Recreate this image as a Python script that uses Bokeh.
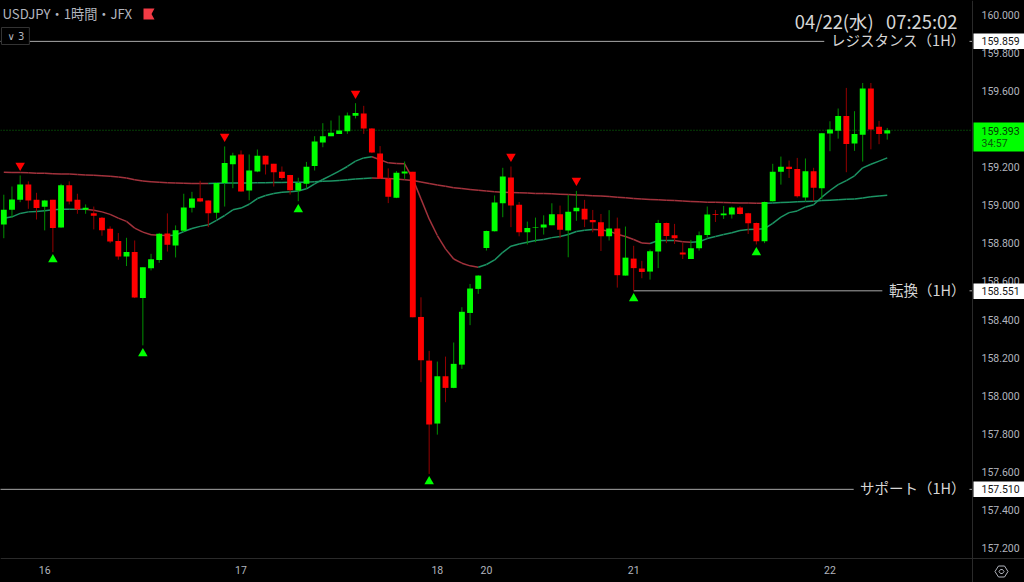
from bokeh.plotting import figure
from bokeh.models import (BoxAnnotation, ColumnDataSource, FixedTicker, Label, LinearAxis, NumeralTickFormatter,
                          PolyAnnotation, Range1d)
from bokeh.embed import file_html
from bokeh.resources import INLINE

open_ = [158.899,158.976,159.028,159.109,159.028,158.992,159.028,158.883,159.104,159.028,158.976,158.958,158.934,158.876,158.812,158.731,158.754,158.513,158.670,158.712,158.852,158.789,158.866,158.986,159.037,159.025,158.960,159.116,159.215,159.266,159.077,159.177,159.259,159.217,159.175,159.159,159.077,159.112,159.205,159.329,159.362,159.374,159.388,159.469,159.481,159.402,159.271,159.140,159.039,159.166,159.175,158.414,158.185,157.855,158.103,158.042,158.164,158.435,158.561,158.776,158.864,159.010,159.145,159.003,158.858,158.883,158.883,158.895,158.953,158.867,158.968,158.982,158.923,158.911,158.837,158.878,158.631,158.720,158.668,158.652,158.757,158.907,158.843,158.752,158.718,158.774,158.844,158.953,158.947,158.951,158.988,158.958,158.907,158.811,159.021,159.176,159.201,159.190,159.040,159.178,159.089,159.376,159.391,159.468,159.323,159.370,159.612,159.411,159.376]
high = [159.055,159.098,159.156,159.125,159.065,159.028,159.028,159.112,159.125,159.060,159.004,158.993,158.938,158.889,158.854,158.829,158.815,158.674,158.745,158.855,158.957,158.894,159.060,159.070,159.128,159.025,159.116,159.308,159.275,159.287,159.266,159.292,159.261,159.217,159.203,159.159,159.144,159.227,159.362,159.430,159.444,159.470,159.486,159.535,159.521,159.404,159.310,159.193,159.179,159.229,159.175,158.517,158.236,158.180,158.206,158.280,158.465,158.587,158.633,158.867,159.051,159.196,159.203,159.017,158.914,158.935,158.947,159.010,158.998,159.054,159.075,159.028,158.975,158.954,158.974,158.935,158.888,158.787,158.708,158.767,158.923,158.909,158.902,158.804,158.818,158.862,158.993,158.975,158.996,158.993,158.995,158.960,158.909,159.019,159.217,159.255,159.234,159.248,159.245,159.196,159.379,159.440,159.507,159.615,159.493,159.641,159.641,159.442,159.405]
low = [158.827,158.934,159.016,158.981,158.925,158.868,158.754,158.882,159.004,158.955,158.955,158.873,158.840,158.801,158.714,158.681,158.513,158.265,158.658,158.698,158.757,158.726,158.859,158.962,159.016,158.885,158.929,158.993,159.089,159.072,159.026,159.173,159.161,159.098,159.133,159.056,159.021,159.088,159.182,159.304,159.362,159.374,159.374,159.455,159.374,159.273,159.138,159.011,159.037,159.138,158.412,158.072,157.591,157.797,157.967,158.040,158.142,158.371,158.535,158.762,158.862,158.937,158.885,158.837,158.794,158.806,158.846,158.895,158.827,158.727,158.918,158.885,158.858,158.760,158.815,158.568,158.631,158.552,158.617,158.610,158.670,158.801,158.797,158.718,158.718,158.762,158.829,158.912,158.928,158.930,158.951,158.849,158.794,158.801,159.019,159.108,159.143,159.040,159.021,159.021,159.033,159.283,159.349,159.173,159.285,159.229,159.293,159.320,159.344]
close = [158.976,159.030,159.109,159.025,158.985,159.025,158.880,159.104,159.020,158.978,158.986,158.945,158.869,158.810,158.731,158.754,158.516,158.674,158.716,158.850,158.792,158.868,158.988,159.035,159.020,158.958,159.116,159.221,159.261,159.072,159.182,159.259,159.214,159.173,159.142,159.079,159.116,159.201,159.334,159.362,159.380,159.392,159.470,159.484,159.402,159.276,159.140,159.044,159.170,159.177,158.412,158.187,157.850,158.103,158.042,158.168,158.441,158.563,158.631,158.865,159.014,159.150,158.998,158.858,158.881,158.886,158.899,158.953,158.871,158.965,158.986,158.925,158.911,158.837,158.878,158.633,158.725,158.670,158.650,158.759,158.907,158.839,158.827,158.741,158.774,158.842,158.951,158.949,158.956,158.988,158.954,158.905,158.811,159.017,159.175,159.201,159.190,159.047,159.178,159.092,159.377,159.397,159.468,159.321,159.374,159.612,159.397,159.374,159.393]
fast_ma = [158.931,158.939,158.957,158.965,158.967,158.971,158.976,158.979,158.979,158.979,158.979,158.974,158.965,158.952,158.932,158.915,158.880,158.859,158.845,158.843,158.841,158.843,158.862,158.878,158.889,158.897,158.920,158.946,158.976,158.985,159.005,159.035,159.051,159.061,159.068,159.070,159.074,159.086,159.112,159.135,159.156,159.179,159.203,159.231,159.248,159.254,159.238,159.222,159.219,159.217,159.138,159.033,158.928,158.841,158.771,158.718,158.696,158.682,158.675,158.689,158.713,158.753,158.785,158.797,158.806,158.815,158.820,158.830,158.836,158.846,158.862,158.869,158.872,158.871,158.864,158.848,158.836,158.820,158.802,158.799,158.815,158.815,158.815,158.808,158.806,158.808,158.825,158.836,158.846,158.856,158.867,158.872,158.874,158.877,158.905,158.937,158.961,158.970,158.991,159.002,159.042,159.077,159.108,159.129,159.154,159.196,159.215,159.231,159.248]
slow_ma = [159.173,159.172,159.171,159.170,159.168,159.167,159.165,159.164,159.163,159.161,159.159,159.157,159.155,159.152,159.148,159.143,159.133,159.127,159.123,159.120,159.118,159.116,159.115,159.114,159.114,159.114,159.115,159.116,159.117,159.117,159.117,159.118,159.118,159.119,159.119,159.120,159.120,159.121,159.123,159.125,159.127,159.129,159.133,159.137,159.140,159.142,159.141,159.140,159.137,159.134,159.130,159.122,159.114,159.106,159.099,159.092,159.087,159.082,159.078,159.074,159.071,159.068,159.066,159.065,159.064,159.062,159.061,159.060,159.058,159.056,159.054,159.052,159.050,159.048,159.045,159.042,159.039,159.035,159.032,159.030,159.028,159.026,159.024,159.022,159.020,159.018,159.016,159.015,159.014,159.013,159.012,159.011,159.010,159.010,159.012,159.014,159.016,159.018,159.019,159.021,159.024,159.026,159.028,159.031,159.033,159.038,159.044,159.048,159.052]
sell_idx = [2, 27, 43, 62, 70]
sell_px = [159.208, 159.360, 159.586, 159.255, 159.130]
buy_idx = [6, 17, 36, 52, 77, 92]
buy_px = [158.715, 158.222, 158.977, 157.551, 158.511, 158.752]
level_names = ["レジスタンス（1H）", "転換（1H）", "サポート（1H）"]
level_values = [159.859, 158.551, 157.510]
level_start = [-0.5, 77, -0.5]
level_end = [100.3, 107.4, 103.9]
date_ticks = {5: "16", 29: "17", 53: "18", 59: "20", 77: "21", 101: "22"}
price_ticks = [157.2, 157.4, 157.6, 157.8, 158.0, 158.2, 158.4, 158.6, 158.8, 159.0, 159.2, 159.4, 159.6, 159.8, 160.0]
last_price = 159.393
countdown = "34:57"
title_text = "USDJPY・1時間・JFX"
clock_text = "04/22(水)\u00a0\u00a0\u00a007:25:02"

W, H = 1024, 582
FW, FH = 972, 558
X0, SX = 3.3, 8.18
PY0, SY = 14.0, 190.7
xpx = lambda px: (px - X0) / SX          # screen pixel -> bar index (chrome only)
ypx = lambda py: 160.0 - (py - PY0) / SY  # screen pixel -> price (chrome only)

GREEN, RED = "#00ff00", "#ff0000"
DGREEN, DRED = "#009000", "#950000"
MA_G, MA_R = "#1c9464", "#a2323c"
TXT = "#b2b5be"
CJK = "Noto Sans CJK JP"

p = figure(width=W, height=H, output_backend="svg", toolbar_location=None,
           x_range=Range1d(xpx(0), xpx(W)), y_range=Range1d(ypx(H), ypx(0)),
           x_axis_location=None, y_axis_location=None,
           background_fill_color="black", border_fill_color="black", outline_line_color=None,
           min_border=0)
p.styles = {"position": "fixed", "left": "0px", "top": "0px", "background-color": "black"}
p.grid.visible = False

ya = LinearAxis(ticker=FixedTicker(ticks=price_ticks), formatter=NumeralTickFormatter(format="0.000"),
                axis_line_color="#2a2a2a", major_tick_line_color=None, minor_tick_line_color=None,
                major_tick_out=0, major_tick_in=0,
                major_label_text_color=TXT, major_label_text_font="Roboto", major_label_text_font_size="10.5px",
                major_label_standoff=9, fixed_location=xpx(FW))
p.add_layout(ya, "right")
xa = LinearAxis(ticker=FixedTicker(ticks=list(date_ticks)), major_label_overrides=date_ticks,
                axis_line_color="#2a2a2a", major_tick_line_color=None, minor_tick_line_color=None,
                major_tick_out=0, major_tick_in=0,
                major_label_text_color=TXT, major_label_text_font="Roboto", major_label_text_font_size="10.5px",
                major_label_standoff=7, fixed_location=ypx(FH))
p.add_layout(xa, "below")

idx = list(range(len(close)))
up = [c >= o for o, c in zip(open_, close)]
src = ColumnDataSource(dict(
    x=idx, high=high, low=low,
    top=[max(o, c) for o, c in zip(open_, close)],
    bottom=[min(o, c) for o, c in zip(open_, close)],
    body=[GREEN if u else RED for u in up],
    wick=[DGREEN if u else DRED for u in up]))

# price line (stops at the axis)
p.segment(xpx(0), last_price, xpx(FW), last_price, line_color="#0a7a0a", line_width=1, line_dash="1 2")
# levels
p.segment(level_start, level_values, level_end, level_values, line_color="#a8a8a8", line_width=1)
p.segment(xpx(969), level_values, xpx(FW), level_values, line_color="#a8a8a8", line_width=1)

def ma_segments(vals):
    xs0, ys0, xs1, ys1, cols = [], [], [], [], []
    cur = MA_R if vals[1] < vals[0] else MA_G
    for i in range(len(vals) - 1):
        if vals[i + 1] > vals[i]:
            cur = MA_G
        elif vals[i + 1] < vals[i]:
            cur = MA_R
        xs0.append(i); ys0.append(vals[i]); xs1.append(i + 1); ys1.append(vals[i + 1]); cols.append(cur)
    return xs0, ys0, xs1, ys1, cols

for series in (slow_ma, fast_ma):
    a, b, c, d, e = ma_segments(series)
    p.segment(a, b, c, d, line_color=e, line_width=1.5)

p.segment("x", "high", "x", "low", source=src, line_color="wick", line_width=1)
p.vbar("x", 0.72, "top", "bottom", source=src, fill_color="body", line_color=None)

p.scatter(sell_idx, sell_px, marker="inverted_triangle", size=9.5, fill_color=RED, line_color=None)
p.scatter(buy_idx, buy_px, marker="triangle", size=9.5, fill_color=GREEN, line_color=None)

def label(x, y, text, **kw):
    base = dict(x=x, y=y, x_units="screen", y_units="data", text=text, text_font=CJK,
                text_baseline="middle", text_color="#d6d6d6", text_font_size="14px")
    base.update(kw)
    p.add_layout(Label(**base))

def box(x0, x1, y0, y1, color):
    p.add_layout(BoxAnnotation(left=xpx(x0), right=xpx(x1), top=ypx(y0), bottom=ypx(y1),
                               fill_color=color, fill_alpha=1, line_color=None))

label(2, ypx(13), title_text, text_color=TXT, text_font_size="13.2px")
label(957, ypx(20), clock_text, text_align="right", text_font_size="18.4px")
for name, val, top in zip(level_names, level_values, (33, 283, 481)):
    label(965, val + 1.5 / SY, name, text_align="right", text_font_size="14.5px")
    box(973, 1024, top, top + 15.5, "white")
    label(981, val, f"{val:.3f}", text_font="Roboto", text_font_size="10.5px", text_color="#111111")
box(973, 1024, 122, 151, GREEN)
label(981, ypx(130), f"{last_price:.3f}", text_font="Roboto", text_font_size="10.5px", text_color="#063a06")
label(981, ypx(143), countdown, text_font="Roboto", text_font_size="10.5px", text_color="#0a5a0a")

# badge, flag and settings icon
label(1, ypx(35.5), "∨ 3", text_font="DejaVu Sans", text_font_size="10px", text_color=TXT,
      background_fill_color="black", border_line_color="#333333", padding=(6, 5, 3, 3))
p.add_layout(PolyAnnotation(xs=[xpx(v) for v in (143, 154, 151, 154, 143)],
                            ys=[ypx(v) for v in (8, 8, 13.5, 19, 19)],
                            fill_color="#f23b45", fill_alpha=1, line_color=None))
p.add_layout(PolyAnnotation(xs=[xpx(v) for v in (994.5, 998, 1004, 1007.5, 1004, 998)],
                            ys=[ypx(v) for v in (571, 565.5, 565.5, 571, 576.5, 576.5)],
                            fill_alpha=0, line_color=TXT, line_alpha=1, line_width=1))
p.add_layout(PolyAnnotation(xs=[xpx(v) for v in (998.5, 1000, 1002, 1003.5, 1002, 1000)],
                            ys=[ypx(v) for v in (571, 569, 569, 571, 573, 573)],
                            fill_alpha=0, line_color=TXT, line_alpha=1, line_width=1))

open("out.html", "w").write(file_html(p, INLINE))
